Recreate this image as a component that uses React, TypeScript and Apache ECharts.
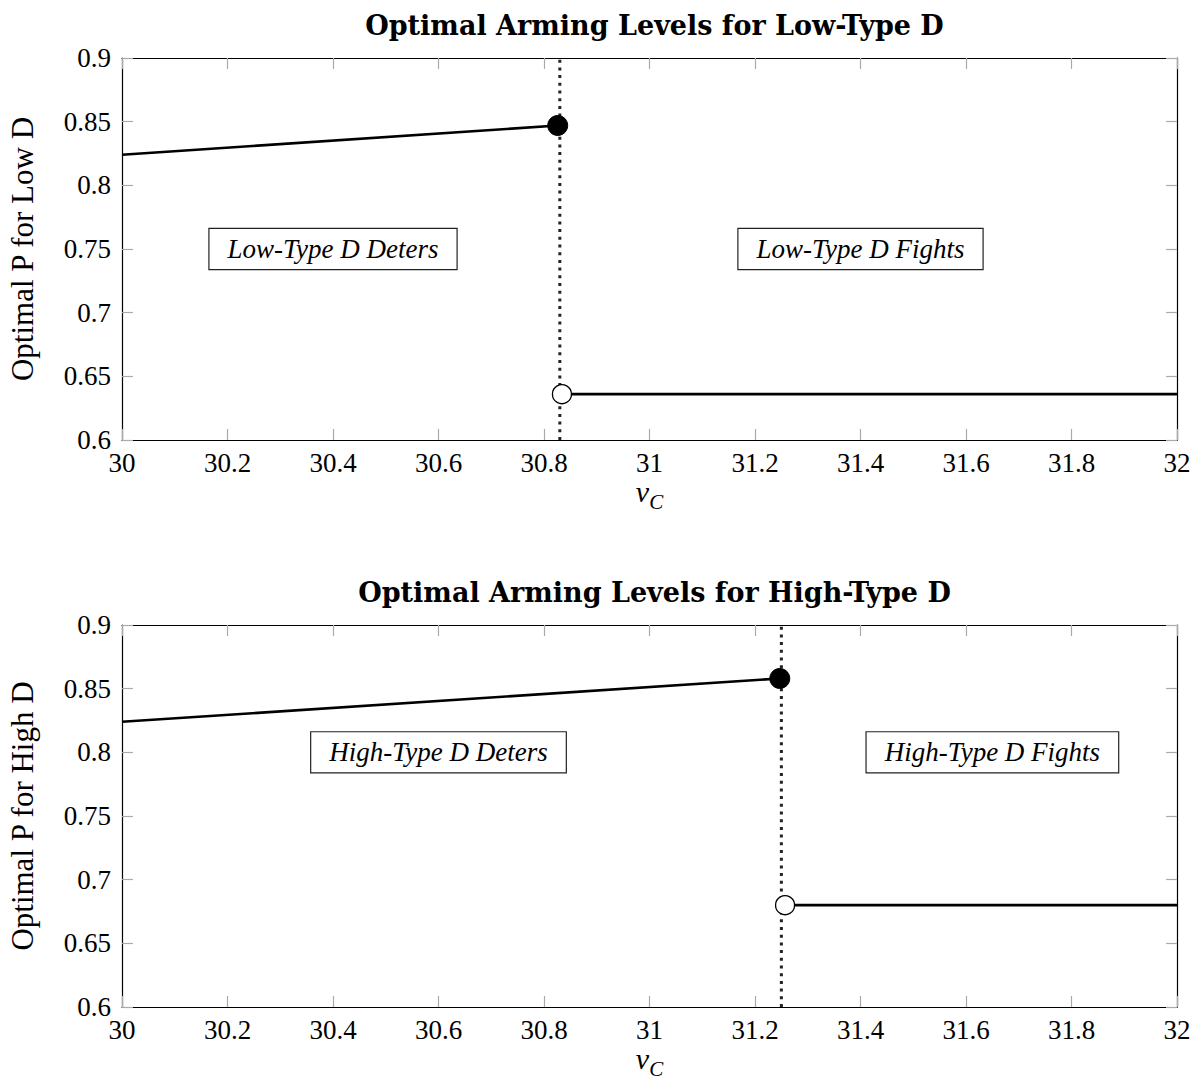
import React, { useEffect, useRef } from "react";
import * as echarts from "echarts";

const X_MIN = 30;
const X_MAX = 32;
const X_STEP = 0.2;
const Y_MIN = 0.6;
const Y_MAX = 0.9;
const Y_STEP = 0.05;

const titles = ["Optimal Arming Levels for Low-Type D", "Optimal Arming Levels for High-Type D"];
const yNames = ["Optimal P for Low D", "Optimal P for High D"];

const lowDeterLine = [[30, 0.824], [30.826, 0.847]];
const lowDeterDot = [[30.826, 0.847]];
const lowFightLine = [[30.834, 0.636], [32, 0.636]];
const lowFightDot = [[30.834, 0.636]];
const lowThreshold = 30.83;
const lowBoxes = [
  { name: "Low-Type D Deters", value: [30.4, 0.75] },
  { name: "Low-Type D Fights", value: [31.4, 0.75] },
];

const highDeterLine = [[30, 0.824], [31.247, 0.858]];
const highDeterDot = [[31.247, 0.858]];
const highFightLine = [[31.257, 0.68], [32, 0.68]];
const highFightDot = [[31.257, 0.68]];
const highThreshold = 31.25;
const highBoxes = [
  { name: "High-Type D Deters", value: [30.6, 0.8] },
  { name: "High-Type D Fights", value: [31.65, 0.8] },
];

const FONT = "Liberation Serif";
const TITLE_FONT = "DejaVu Serif";

export default function App() {
  const ref = useRef<HTMLDivElement>(null);
  useEffect(() => {
    if (!ref.current) return;
    const chart = echarts.init(ref.current, null, { renderer: "svg" });
    const grids = [
      { left: 122, top: 58, width: 1055, height: 382, outerBoundsMode: "none", containLabel: false },
      { left: 122, top: 625, width: 1055, height: 382, outerBoundsMode: "none", containLabel: false },
    ];
    const tickStyle = { inside: true, length: 11, lineStyle: { color: "#aaaaaa", width: 1.2 } };
    const axisLine = { show: true, onZero: false, lineStyle: { color: "#000", width: 1.2 } };
    const xAxes: any[] = [];
    const yAxes: any[] = [];
    [0, 1].forEach((g) => {
      xAxes.push({
        type: "value", gridIndex: g, min: X_MIN, max: X_MAX, interval: X_STEP, position: "bottom",
        axisLine, axisTick: tickStyle, splitLine: { show: false },
        axisLabel: { color: "#000", fontFamily: FONT, fontSize: 27, margin: 9, showMinLabel: true, showMaxLabel: true,
          formatter: (v: number) => String(Math.round(v * 10) / 10) },
        name: "{v|v}{c|C}", nameLocation: "middle", nameGap: 32,
        nameTextStyle: { rich: {
          v: { fontFamily: FONT, fontStyle: "italic", fontSize: 30, color: "#000", verticalAlign: "bottom" },
          c: { fontFamily: FONT, fontStyle: "italic", fontSize: 21, color: "#000", verticalAlign: "bottom", padding: [0, 0, -6, 0] },
        } },
      });
      xAxes.push({
        type: "value", gridIndex: g, min: X_MIN, max: X_MAX, interval: X_STEP, position: "top",
        axisLine, axisTick: tickStyle, splitLine: { show: false }, axisLabel: { show: false },
      });
      yAxes.push({
        type: "value", gridIndex: g, min: Y_MIN, max: Y_MAX, interval: Y_STEP, position: "left",
        axisLine, axisTick: tickStyle, splitLine: { show: false },
        axisLabel: { color: "#000", fontFamily: FONT, fontSize: 27, margin: 11, showMinLabel: true, showMaxLabel: true,
          formatter: (v: number) => String(Math.round(v * 100) / 100) },
        name: yNames[g], nameLocation: "middle", nameGap: 84,
        nameTextStyle: { fontFamily: FONT, fontSize: 31, color: "#000" },
      });
      yAxes.push({
        type: "value", gridIndex: g, min: Y_MIN, max: Y_MAX, interval: Y_STEP, position: "right",
        axisLine, axisTick: tickStyle, splitLine: { show: false }, axisLabel: { show: false },
      });
    });

    const series: any[] = [];
    const groups = [
      { deterLine: lowDeterLine, deterDot: lowDeterDot, fightLine: lowFightLine, fightDot: lowFightDot, thr: lowThreshold, boxes: lowBoxes },
      { deterLine: highDeterLine, deterDot: highDeterDot, fightLine: highFightLine, fightDot: highFightDot, thr: highThreshold, boxes: highBoxes },
    ];
    groups.forEach((d, g) => {
      const xi = g * 2;
      const yi = g * 2;
      series.push({
        type: "line", xAxisIndex: xi, yAxisIndex: yi, data: [[d.thr, Y_MIN], [d.thr, Y_MAX]],
        showSymbol: false, symbol: "none", z: 1,
        lineStyle: { color: "#222", width: 3, type: [3, 4.7], cap: "butt" },
      });
      series.push({
        type: "line", xAxisIndex: xi, yAxisIndex: yi, data: d.deterLine, symbol: "none", z: 2,
        lineStyle: { color: "#000", width: 2.6 },
      });
      series.push({
        type: "line", xAxisIndex: xi, yAxisIndex: yi, data: d.fightLine, symbol: "none", z: 2,
        lineStyle: { color: "#000", width: 2.6 },
      });
      series.push({
        type: "scatter", xAxisIndex: xi, yAxisIndex: yi, data: d.deterDot, symbol: "circle", symbolSize: 20, z: 5,
        itemStyle: { color: "#000", borderColor: "#000", borderWidth: 1, opacity: 1 },
      });
      series.push({
        type: "scatter", xAxisIndex: xi, yAxisIndex: yi, data: d.fightDot, symbol: "circle", symbolSize: 19, z: 5,
        itemStyle: { color: "#fff", borderColor: "#000", borderWidth: 1.3, opacity: 1 },
      });
      series.push({
        type: "scatter", xAxisIndex: xi, yAxisIndex: yi, data: d.boxes, symbolSize: 0, z: 6,
        itemStyle: { opacity: 1 },
        label: {
          show: true, position: "inside", formatter: (p: any) => p.name,
          fontFamily: FONT, fontStyle: "italic", fontSize: 27, color: "#000", opacity: 1,
          backgroundColor: "#fff", borderColor: "#222", borderWidth: 1.2, padding: [7, 18, 6, 18],
        },
      });
    });

    chart.setOption({
      animation: false,
      backgroundColor: "#fff",
      title: titles.map((t, i) => ({
        text: t, left: 649.5, top: i === 0 ? 7 : 574, textAlign: "center",
        textStyle: { fontFamily: TITLE_FONT, fontWeight: "bold", fontSize: 27, color: "#000" },
      })),
      grid: grids,
      xAxis: xAxes,
      yAxis: yAxes,
      series,
    });
    return () => chart.dispose();
  }, []);
  return <div ref={ref} style={{ position: "absolute", left: 0, top: 0, width: 1198, height: 1078 }} />;
}
